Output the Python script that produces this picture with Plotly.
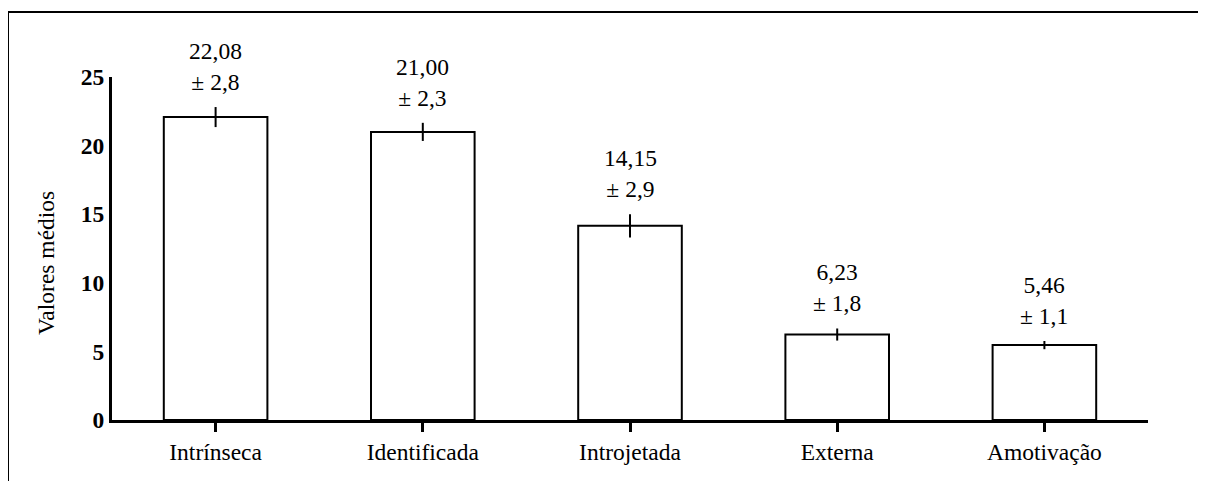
import plotly.graph_objects as go

categories = ["Intrínseca", "Identificada", "Introjetada", "Externa", "Amotivação"]
means = [22.08, 21.00, 14.15, 6.23, 5.46]
sd_labels = ["2,8", "2,3", "2,9", "1,8", "1,1"]
mean_labels = ["22,08", "21,00", "14,15", "6,23", "5,46"]
err_bars = [0.73, 0.66, 0.84, 0.44, 0.30]
y_ticks = [0, 5, 10, 15, 20, 25]

FONT = "Liberation Serif, Times New Roman, serif"
FS = 23.5

# page body has 8px margin; figure coordinates are page coordinates minus 8
L, T, R_EDGE, B_EDGE = 104, 69, 1140, 412  # plot area in figure px
W, H = 1206, 481
PW, PH = R_EDGE - L, B_EDGE - T

def px_x(x):
    return (x - 8 - L) / PW

def px_y(y):
    return (B_EDGE - (y - 8)) / PH

fig = go.Figure()
fig.add_trace(go.Bar(
    x=categories, y=means, width=0.5,
    marker=dict(color="white", line=dict(color="black", width=2)),
    error_y=dict(type="data", array=err_bars, visible=True, color="black", thickness=2, width=0),
    showlegend=False,
))

for c, m, e, ml, sl in zip(categories, means, err_bars, mean_labels, sd_labels):
    fig.add_annotation(x=c, y=m + e, xref="x", yref="y", text=f"{ml}<br>± {sl}",
                       showarrow=False, yanchor="bottom", yshift=10,
                       font=dict(family=FONT, size=FS, color="black"))

fig.add_annotation(x=px_x(46), y=px_y(263), xref="paper", yref="paper",
                   xanchor="center", yanchor="middle",
                   text="Valores médios", textangle=-90, showarrow=False,
                   font=dict(family=FONT, size=FS, color="black"))

# outer frame (top and left)
fig.add_shape(type="line", xref="paper", yref="paper", x0=px_x(8), x1=1.2,
              y0=px_y(12), y1=px_y(12), line=dict(color="black", width=2))
fig.add_shape(type="line", xref="paper", yref="paper", x0=px_x(8), x1=px_x(8),
              y0=px_y(12), y1=-0.4, line=dict(color="black", width=2))

fig.update_layout(
    width=W, height=H,
    margin=dict(l=L, r=W - R_EDGE, t=T, b=H - B_EDGE),
    paper_bgcolor="white", plot_bgcolor="white",
    font=dict(family=FONT, size=FS, color="black"),
    xaxis=dict(range=[-0.5, 4.5], showline=True, linecolor="black", linewidth=3,
               ticks="outside", ticklen=9, tickwidth=3, tickcolor="black",
               showgrid=False, zeroline=False, tickfont=dict(family=FONT, size=FS)),
    yaxis=dict(range=[0, 25], showline=True, linecolor="black", linewidth=3,
               tickvals=y_ticks, ticktext=[f"<b>{v}</b>" for v in y_ticks],
               ticks="", showgrid=False, zeroline=False,
               tickfont=dict(family=FONT, size=FS), ticklabelstandoff=0),
)

fig.write_html("out.html")
